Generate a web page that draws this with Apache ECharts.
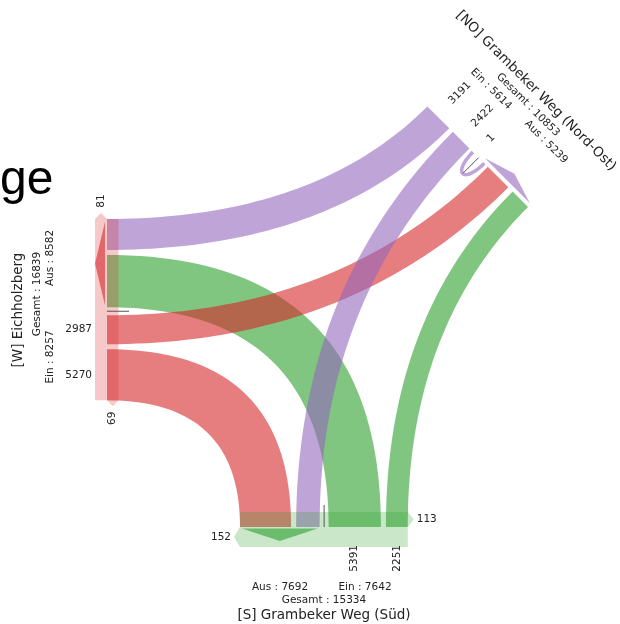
<!DOCTYPE html>
<html><head><meta charset="utf-8">
<script src="https://cdn.jsdelivr.net/npm/echarts@6/dist/echarts.min.js"></script>
<style>html,body{margin:0;padding:0;background:#fff}#c{width:620px;height:624px}</style>
</head><body><div id="c"></div>
<script>
// ---------------- data ----------------
const armKeys    = ['W', 'S', 'NO'];
const armTitles  = ['[W] Eichholzberg', '[S] Grambeker Weg (Süd)', '[NO] Grambeker Weg (Nord-Ost)'];
const armEin     = [8257, 7642, 5614];
const armAus     = [8582, 7692, 5239];
const armGesamt  = [16839, 15334, 10853];
const armArrowStart = [81, 152, null];
const armArrowEnd   = [69, 113, null];
const flowFrom  = ['S', 'S',  'W',  'W', 'NO', 'NO', 'NO', 'W', 'S'];
const flowTo    = ['W', 'NO', 'NO', 'S', 'S',  'W',  'NO', 'W', 'S'];
const flowValue = [5391, 2251, 2987, 5270, 2422, 3191, 1, 0, 0];
const headTitle = 'ge';

// ---------------- layout / style ----------------
const PX = 0.0097;       // pixels per vehicle
const CURVE = 0.667;     // control point fraction of distance to the normals' crossing
const R = Math.SQRT1_2;
const FONT = 'DejaVu Sans';
const ARM_RGB = {W: [214, 39, 40], S: [44, 160, 44], NO: [148, 103, 189]};
const rgba = (c, a) => `rgba(${c[0]},${c[1]},${c[2]},${a})`;
const GEOM = {
  W:  {o: [107, 219], d: [0, 1],  n: [1, 0],  gaps: [5, 8, 5],  barIn: 11.5, barOut: 12,
       tri: {s: 3, e: -2, h0: 2, h1: 12},
       inLabel: {off: 15, rot: 0, align: 'right', shift: 0},
       arrow: {rot: Math.PI / 2, gap: 12, sa: 'center', ea: 'center'}},
  S:  {o: [240, 527], d: [1, 0],  n: [0, -1], gaps: [5, 9, 5],  barIn: 15, barOut: 20,
       tri: {s: 2, e: -2, h0: 1.5, h1: 14},
       inLabel: {off: 18, rot: Math.PI / 2, align: 'right', shift: 0},
       arrow: {rot: 0, gap: 3, sa: 'right', ea: 'left'}},
  NO: {o: [528, 207], d: [-R, -R], n: [-R, R], gaps: [6, 26, 5], barIn: 0, barOut: 0,
       tri: {s: 1.5, e: 8, h0: 4, h1: 14},
       inLabel: {off: 19, rot: Math.PI / 4, align: 'left', shift: 2},
       arrow: null}
};
const TEXT_POS = {
  W:  {rot: Math.PI / 2,  title: [18, 310], total: [37, 294], ein: [50, 357], aus: [50, 258]},
  S:  {rot: 0,            title: [324, 615], total: [324, 600], ein: [365, 587], aus: [280, 587]},
  NO: {rot: -Math.PI / 4, title: [536, 91], total: [528, 105], ein: [491, 89], aus: [546, 142]}
};

function flowVal(f, t) {
  for (let k = 0; k < flowValue.length; k++) if (flowFrom[k] === f && flowTo[k] === t) return flowValue[k];
  return 0;
}
function buildLayout() {
  const L = {};
  armKeys.forEach((a, i) => {
    const prev = armKeys[(i + 2) % 3], next = armKeys[(i + 1) % 3];
    const g = GEOM[a];
    let p = 0; const seg = {};
    let w = flowVal(prev, a) * PX; seg['in:' + prev] = [p, p + w]; p += w + g.gaps[0];
    w = flowVal(next, a) * PX; seg['in:' + next] = [p, p + w]; p += w;
    const ausEnd = p;
    w = flowVal(a, a) * PX; const u0 = p; p += g.gaps[1] + w; seg.u = [u0, p];
    w = flowVal(a, prev) * PX; seg['out:' + prev] = [p, p + w]; p += w + g.gaps[2];
    w = flowVal(a, next) * PX; seg['out:' + next] = [p, p + w]; p += w;
    L[a] = {seg, ausEnd, len: p};
  });
  return L;
}
const LAY = buildLayout();
function P(a, t, h) { const g = GEOM[a]; h = h || 0; return [g.o[0] + g.d[0] * t + g.n[0] * h, g.o[1] + g.d[1] * t + g.n[1] * h]; }
function cubic(P0, C1, C2, P3, N) {
  const pts = [];
  for (let j = 0; j <= N; j++) {
    const t = j / N, u = 1 - t;
    pts.push([u*u*u*P0[0] + 3*u*u*t*C1[0] + 3*u*t*t*C2[0] + t*t*t*P3[0],
              u*u*u*P0[1] + 3*u*u*t*C1[1] + 3*u*t*t*C2[1] + t*t*t*P3[1]]);
  }
  return pts;
}
function edge(A, pa, B, pb) {
  const n0 = GEOM[A].n, n3 = GEOM[B].n;
  const dx = pb[0] - pa[0], dy = pb[1] - pa[1];
  const det = -n0[0] * n3[1] + n3[0] * n0[1];
  let s, t;
  if (Math.abs(det) > 1e-6) {
    s = (dx * (-n3[1]) + n3[0] * dy) / det;
    t = (n0[0] * dy - n0[1] * dx) / det;
  }
  if (!(s > 0 && t > 0)) { s = t = 0.6 * Math.hypot(dx, dy); }
  const C1 = [pa[0] + n0[0] * s * CURVE, pa[1] + n0[1] * s * CURVE];
  const C2 = [pb[0] + n3[0] * t * CURVE, pb[1] + n3[1] * t * CURVE];
  return cubic(pa, C1, C2, pb, 48);
}
function txt(api, pt, text, size, rot, align, color) {
  const c = api.coord(pt);
  return {type: 'text', x: c[0], y: c[1], rotation: rot, silent: true,
    style: {text: String(text), fill: color || '#222', fontSize: size, fontFamily: FONT, align: align, verticalAlign: 'middle'}};
}

function renderFlow(params, api) {
  const i = params.dataIndex;
  const A = flowFrom[i], B = flowTo[i], v = flowValue[i];
  const col = ARM_RGB[A];
  if (A === B) {
    if (v <= 0) return {type: 'group', children: []};
    const s = LAY[A].seg.u, c = (s[0] + s[1]) / 2, n = GEOM[A].n;
    const p0 = P(A, c - 8), p3 = P(A, c + 8);
    const pts = cubic(p0, [p0[0] + n[0] * 30, p0[1] + n[1] * 30], [p3[0] + n[0] * 30, p3[1] + n[1] * 30], p3, 30).map(p => api.coord(p));
    return {type: 'polyline', silent: true, shape: {points: pts}, style: {stroke: rgba(col, 0.6), lineWidth: 3.5, fill: null}};
  }
  const so = LAY[A].seg['out:' + B], si = LAY[B].seg['in:' + A];
  const e1 = edge(A, P(A, so[0]), B, P(B, si[1]));
  const e2 = edge(B, P(B, si[0]), A, P(A, so[1]));
  const pts = e1.concat(e2).map(p => api.coord(p));
  return {type: 'polygon', silent: true, shape: {points: pts}, style: {fill: rgba(col, 0.6)}};
}

function renderArm(params, api) {
  const i = params.dataIndex, a = armKeys[i], g = GEOM[a], lay = LAY[a], col = ARM_RGB[a];
  const ch = [];
  const poly = (pts, fill) => ch.push({type: 'polygon', silent: true, shape: {points: pts.map(p => api.coord(p))}, style: {fill}});
  if (g.barIn + g.barOut > 0) {
    poly([P(a, 0, -g.barOut), P(a, lay.len, -g.barOut), P(a, lay.len, g.barIn), P(a, 0, g.barIn)], rgba(col, 0.25));
  }
  const t = g.tri, t0 = t.s, t1 = lay.ausEnd + t.e;
  poly([P(a, t0, -t.h0), P(a, t1, -t.h0), P(a, (t0 + t1) / 2, -t.h1)], rgba(col, 0.6));
  if (g.arrow && armArrowStart[i] != null) {
    poly([P(a, 0, 0), P(a, 0, -g.barOut), P(a, -6, -g.barOut / 2)], rgba(col, 0.25));
    ch.push(txt(api, P(a, -6 - g.arrow.gap, -g.barOut / 2), armArrowStart[i], 10.5, g.arrow.rot, g.arrow.sa));
  }
  if (g.arrow && armArrowEnd[i] != null) {
    poly([P(a, lay.len, 0), P(a, lay.len, g.barIn), P(a, lay.len + 6, g.barIn / 2)], rgba(col, 0.25));
    ch.push(txt(api, P(a, lay.len + 6 + g.arrow.gap, g.barIn / 2), armArrowEnd[i], 10.5, g.arrow.rot, g.arrow.ea));
  }
  const u = lay.seg.u, uc = (u[0] + u[1]) / 2;
  const l0 = api.coord(P(a, uc, 0)), l1 = api.coord(P(a, uc, 22));
  ch.push({type: 'line', silent: true, shape: {x1: l0[0], y1: l0[1], x2: l1[0], y2: l1[1]}, style: {stroke: '#555', lineWidth: 1}});
  const il = g.inLabel;
  for (let k = 0; k < flowValue.length; k++) {
    if (flowFrom[k] !== a || flowValue[k] <= 0) continue;
    const s = flowTo[k] === a ? lay.seg.u : lay.seg['out:' + flowTo[k]];
    const c = (s[0] + s[1]) / 2 + il.shift + (flowTo[k] === a ? 3 : 0);
    ch.push(txt(api, P(a, c, -il.off), flowValue[k], 10.5, il.rot, il.align));
  }
  const tp = TEXT_POS[a];
  ch.push(txt(api, tp.title, armTitles[i], 13.5, tp.rot, 'center'));
  ch.push(txt(api, tp.total, 'Gesamt : ' + armGesamt[i], 10.5, tp.rot, 'center'));
  ch.push(txt(api, tp.ein, 'Ein : ' + armEin[i], 10.5, tp.rot, 'center'));
  ch.push(txt(api, tp.aus, 'Aus : ' + armAus[i], 10.5, tp.rot, 'center'));
  return {type: 'group', children: ch};
}

const chart = echarts.init(document.getElementById('c'), null, {renderer: 'canvas'});
chart.setOption({
  animation: false,
  backgroundColor: '#fff',
  grid: {left: 0, right: 0, top: 0, bottom: 0},
  xAxis: {type: 'value', min: 0, max: 620, show: false},
  yAxis: {type: 'value', min: 0, max: 624, inverse: true, show: false},
  graphic: [{type: 'text', x: 0, y: 181, silent: true,
    style: {text: headTitle, fill: '#000', fontSize: 48, fontFamily: 'Liberation Sans', verticalAlign: 'middle'}}],
  series: [
    {type: 'custom', coordinateSystem: 'cartesian2d', z: 2, clip: false,
     data: flowValue.map((v, i) => [i, v]), renderItem: renderFlow},
    {type: 'custom', coordinateSystem: 'cartesian2d', z: 3, clip: false,
     data: armGesamt.map((v, i) => [i, v]), renderItem: renderArm}
  ]
});
</script></body></html>
